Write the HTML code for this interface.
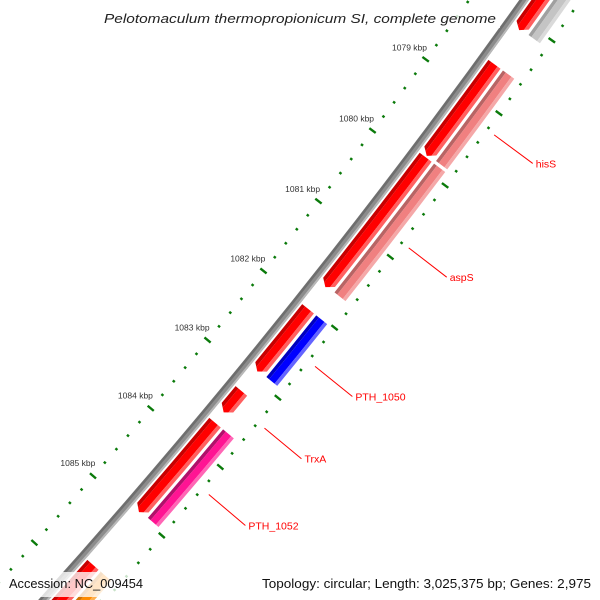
<!DOCTYPE html>
<html><head><meta charset="utf-8"><style>
html,body{margin:0;padding:0;background:#fff;width:600px;height:600px;overflow:hidden;}
svg{display:block;font-family:"Liberation Sans","DejaVu Sans",sans-serif;overflow:hidden;}
</style></head><body>
<svg id="map" width="600" height="600" viewBox="0 0 600 600" xmlns="http://www.w3.org/2000/svg">
<rect x="0" y="0" width="600" height="600" fill="#fff"/>
<defs id="defs"></defs>
<g id="ticks"></g>
<g id="backbone"></g>
<g id="genes"></g>
<g id="labels"></g>
<rect x="100" y="6" width="400" height="22" fill="#fff" fill-opacity="0.8"/>
<text x="300" y="23" text-anchor="middle" font-size="13" font-style="italic" fill="#222" textLength="392" lengthAdjust="spacingAndGlyphs">Pelotomaculum thermopropionicum SI, complete genome</text>
<rect x="0" y="572" width="150" height="25" fill="#fff" fill-opacity="0.78"/>
<text x="9" y="588" font-size="13" fill="#111" textLength="134" lengthAdjust="spacingAndGlyphs">Accession: NC_009454</text>
<text x="591" y="588" text-anchor="end" font-size="13" fill="#111" textLength="329" lengthAdjust="spacingAndGlyphs">Topology: circular; Length: 3,025,375 bp; Genes: 2,975</text>
</svg>
<script>
const geneNames = ['PTH_1046', 'hisS', 'aspS', 'PTH_1050', 'TrxA', 'PTH_1052', 'PTH_1053'];
const geneStarts = [1076.8, 1078.59, 1079.88, 1082.02, 1083.2, 1083.66, 1085.75];
const geneEnds = [1078.12, 1079.86, 1081.71, 1082.92, 1083.51, 1084.97, 1087.2];
const geneLabeled = [false, true, true, true, true, true, false];
const cogClass = ['gray', 'pink', 'pink', 'blue', '', 'magenta', 'orange'];
const tickLabelKbp = [1079, 1080, 1081, 1082, 1083, 1084, 1085];
const tickStartKbp = 1075;
const tickEndKbp = 1088;

const NS = 'http://www.w3.org/2000/svg';
const CX = -4972, CY = -3910;
function theta(kbp){ return (36.33 + (kbp - 1079) * 0.76) * Math.PI / 180; }
function P(r, a){ return [CX + r * Math.cos(a), CY + r * Math.sin(a)]; }
function f(p){ return p[0].toFixed(2) + ' ' + p[1].toFixed(2); }
function sector(r1, r2, a1, a2){
  return 'M' + f(P(r1,a1)) + ' A' + r1 + ' ' + r1 + ' 0 0 1 ' + f(P(r1,a2)) +
    ' L' + f(P(r2,a2)) + ' A' + r2 + ' ' + r2 + ' 0 0 0 ' + f(P(r2,a1)) + ' Z';
}
function arrowPath(r1, r2, a1, a2){
  const rm = (r1 + r2) / 2, aa = 6 / rm;
  const b = Math.max(a1, a2 - aa);
  return 'M' + f(P(r1,a1)) + ' A' + r1 + ' ' + r1 + ' 0 0 1 ' + f(P(r1,b)) +
    ' L' + f(P(rm,a2)) + ' L' + f(P(r2,b)) + ' A' + r2 + ' ' + r2 + ' 0 0 0 ' + f(P(r2,a1)) + ' Z';
}
const palette = {
  red: ['#c80000', '#ff0000', '#ff6060'],
  gray: ['#a0a0a0', '#c4c4c4', '#dadada'],
  pink: ['#b86464', '#f08080', '#f5a8a8'],
  blue: ['#0000c0', '#0000ff', '#6464ff'],
  magenta: ['#b0106a', '#ff1493', '#ff66b5'],
  orange: ['#d07000', '#ff8c00', '#ffb050']
};
const defs = document.getElementById('defs');
const gTicks = document.getElementById('ticks');
const gBack = document.getElementById('backbone');
const gGenes = document.getElementById('genes');
const gLab = document.getElementById('labels');

function tickLine(r1, r2, a, w, name){
  const l = document.createElementNS(NS, 'line');
  const p1 = P(r1, a), p2 = P(r2, a);
  l.setAttribute('x1', p1[0]); l.setAttribute('y1', p1[1]);
  l.setAttribute('x2', p2[0]); l.setAttribute('y2', p2[1]);
  l.setAttribute('stroke', '#0a7a0a'); l.setAttribute('stroke-width', w);
  
  
  gTicks.appendChild(l);
}
for (let i = 0; tickStartKbp + i * 0.2 <= tickEndKbp + 1e-9; i++){
  const k = tickStartKbp + i * 0.2;
  const major = i % 5 === 0;
  const a = theta(k);
  if (major){
    tickLine(6696, 6704, a, 2.4, 'inner-major-tick');
    tickLine(6787, 6795, a, 2.4, 'outer-major-tick');
  } else {
    tickLine(6699, 6701.6, a, 2.4, 'inner-minor-tick');
    tickLine(6790, 6792.6, a, 2.4, 'outer-minor-tick');
  }
}
tickLabelKbp.forEach(k => {
  const p = P(6680, theta(k));
  const t = document.createElementNS(NS, 'text');
  t.setAttribute('x', p[0]); t.setAttribute('y', p[1] + 3);
  t.setAttribute('text-anchor', 'middle');
  t.setAttribute('font-size', '8.5');
  t.setAttribute('fill', '#333');
  t.textContent = k + ' kbp';
  
  
  gTicks.appendChild(t);
});

[[6745, 8, '#8c8c8c'], [6742.5, 2.5, '#6e6e6e'], [6748, 2, '#b8b8b8']].forEach(s => {
  const p = document.createElementNS(NS, 'path');
  p.setAttribute('d', 'M' + f(P(s[0], theta(1075.5))) + ' A' + s[0] + ' ' + s[0] + ' 0 0 1 ' + f(P(s[0], theta(1087.5))));
  p.setAttribute('fill', 'none'); p.setAttribute('stroke', s[2]); p.setAttribute('stroke-width', s[1]);
  
  
  gBack.appendChild(p);
});

function drawFeature(id, r1, r2, a1, a2, colors, arrow, name){
  const cp = document.createElementNS(NS, 'clipPath');
  cp.setAttribute('id', id);
  const sh = document.createElementNS(NS, 'path');
  sh.setAttribute('d', arrow ? arrowPath(r1, r2, a1, a2) : sector(r1, r2, a1, a2));
  cp.appendChild(sh); defs.appendChild(cp);
  const g = document.createElementNS(NS, 'g');
  g.setAttribute('clip-path', 'url(#' + id + ')');
  
  
  const w = r2 - r1;
  const bands = [[r1 - 1, r1 + w * 0.25, colors[0]], [r1 + w * 0.25, r1 + w * 0.75, colors[1]], [r1 + w * 0.75, r2 + 1, colors[2]]];
  bands.forEach(b => {
    const p = document.createElementNS(NS, 'path');
    p.setAttribute('d', sector(b[0], b[1], a1 - 0.001, a2 + 0.001));
    p.setAttribute('fill', b[2]);
    g.appendChild(p);
  });
  gGenes.appendChild(g);
}
geneNames.forEach((n, i) => {
  const a1 = theta(geneStarts[i]), a2 = theta(geneEnds[i]);
  drawFeature('g' + i, 6751, 6766, a1, a2, palette.red, true, 'gene-' + n);
  if (cogClass[i]) drawFeature('c' + i, 6769, 6783, a1, a2 - 1.5 / 6776, palette[cogClass[i]], false, 'cog-' + n);
  if (geneLabeled[i]){
    const am = theta((geneStarts[i] + geneEnds[i]) / 2);
    const p1 = P(6800, am), p2 = P(6848, am);
    const l = document.createElementNS(NS, 'line');
    l.setAttribute('x1', p1[0]); l.setAttribute('y1', p1[1]);
    l.setAttribute('x2', p2[0]); l.setAttribute('y2', p2[1]);
    l.setAttribute('stroke', '#f00'); l.setAttribute('stroke-width', '1');
    
    
    gLab.appendChild(l);
    const t = document.createElementNS(NS, 'text');
    t.setAttribute('x', p2[0] + 3); t.setAttribute('y', p2[1] + 4);
    t.setAttribute('font-size', '10.5'); t.setAttribute('fill', '#f00');
    t.textContent = n;
    
    
    gLab.appendChild(t);
  }
});
</script>
</body></html>
